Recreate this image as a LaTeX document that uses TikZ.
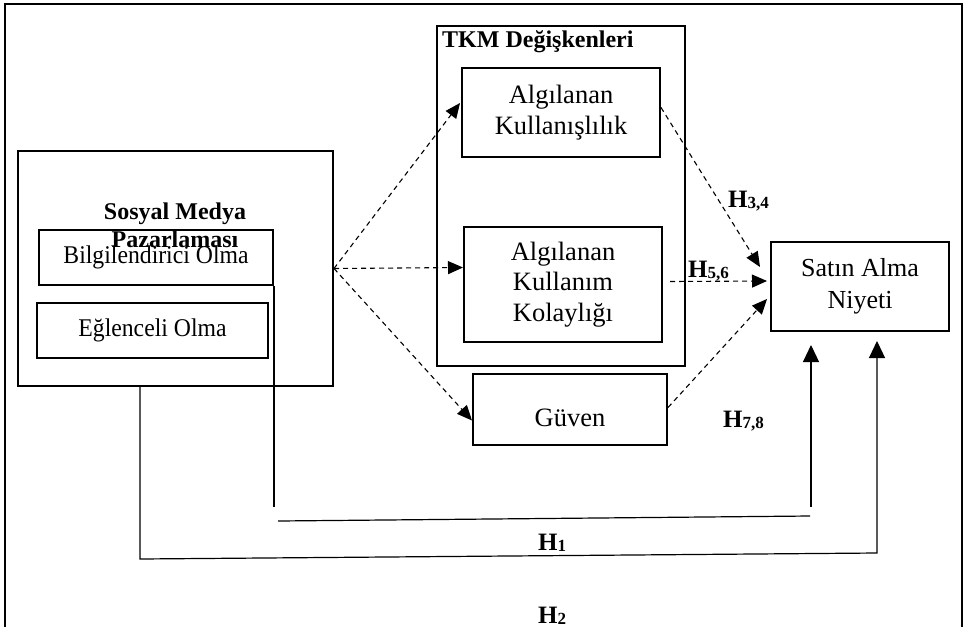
\documentclass[tikz,border=0pt]{standalone}
\usepackage{fontspec}
\setmainfont{Liberation Serif}
\usetikzlibrary{arrows.meta,calc}
\newcommand{\Hlab}[1]{\textbf{H\raisebox{-1pt}{\fontsize{17}{17}\selectfont\bfseries #1}}}
\newcommand{\narrow}[1]{\scalebox{0.93}[1]{#1}}
\begin{document}
\begin{tikzpicture}[x=1pt,y=-1pt,
  box/.style={draw, line width=2pt, rectangle, inner sep=0pt, align=center, font=\fontsize{26.5}{30.5}\selectfont},
  smallbox/.style={box, font=\fontsize{25.5}{30}\selectfont},
  dasharrow/.style={draw, line width=1.1pt, dash pattern=on 5pt off 4pt, -{Triangle[length=15pt,width=13pt]}},
  solidline/.style={draw, line width=1.2pt},
  solidarrow/.style={solidline, -{Triangle[length=17pt,width=16pt]}},
  title/.style={font=\fontsize{24}{28}\selectfont\bfseries, inner sep=0pt, align=center},
  hlabel/.style={font=\fontsize{25}{25}\selectfont, inner sep=0pt, anchor=base west}]
\useasboundingbox (0,0) rectangle (965,627);
\draw[line width=2pt] (5,627) -- (5,4) -- (962,4) -- (962,627);

\node[box, minimum width=315pt, minimum height=235pt] (smp) at (175.5,268.5) {};
\node[smallbox, minimum width=234pt, minimum height=55pt] (bilg) at (156,257.5) {\narrow{Bilgilendirici Olma}};
\node[smallbox, minimum width=231pt, minimum height=55pt] (egl) at (152.5,330.5) {\narrow{Eğlenceli Olma}};
\node[title] (smpt) at (175,225) {Sosyal Medya\\Pazarlaması};

\node[box, minimum width=248pt, minimum height=340pt] (tkm) at (561,196) {};
\node[title, anchor=base west] (tkmt) at (442,47) {TKM Değişkenleri};
\node[box, minimum width=198pt, minimum height=89pt] (ak) at (561,112.5) {Algılanan\\Kullanışlılık};
\node[box, minimum width=198pt, minimum height=115pt] (akk) at (563,284.5) {Algılanan\\Kullanım\\Kolaylığı};
\node[box, minimum width=194pt, minimum height=71pt] (guven) at (570,409.5) {\raisebox{-8.5pt}[\height][\depth]{Güven}};
\node[box, font=\fontsize{26}{32.5}\selectfont, minimum width=178pt, minimum height=89pt] (sat) at (860,286.5) {Satın Alma\\Niyeti};

\draw[dasharrow] (smp.east) -- ($(ak.west)+(-1,-9.5)$);
\draw[dasharrow] (smp.east) -- ($(akk.west)+(0,-17)$);
\draw[dasharrow] (smp.east) -- ($(guven.west)+(0,11)$);
\draw[dasharrow] ($(ak.east)+(0,-5)$) -- ($(sat.west)+(-10,-19.5)$);
\draw[dasharrow] ($(akk.east)+(7,-3)$) -- ($(sat.west)+(-3,-5.5)$);
\draw[dasharrow] ($(guven.east)+(0,-2)$) -- ($(sat.west)+(-3,12.5)$);

\coordinate (h1a) at (274,507);
\coordinate (h1b) at (278,521);
\coordinate (h1c) at (810,516);
\coordinate (h1d) at (811,507);
\draw[solidline] (bilg.south east) -- (h1a);
\draw[solidline] (h1b) -- (h1c);
\draw[solidarrow] (h1d) -- ($(sat.south)+(-49,13)$);

\coordinate (h2a) at (140,559);
\coordinate (h2b) at (877,553);
\draw[solidarrow] ($(smp.south west)+(123,0)$) -- (h2a) -- (h2b) -- ($(sat.south)+(17,9)$);

\node[hlabel] (h34) at (728,207) {\Hlab{3,4}};
\node[hlabel] (h56) at (688,277) {\Hlab{5,6}};
\node[hlabel] (h78) at (723,427) {\Hlab{7,8}};
\node[hlabel] (h1l) at (538,550) {\Hlab{1}};
\node[hlabel] (h2l) at (538,623) {\Hlab{2}};
\end{tikzpicture}
\end{document}
